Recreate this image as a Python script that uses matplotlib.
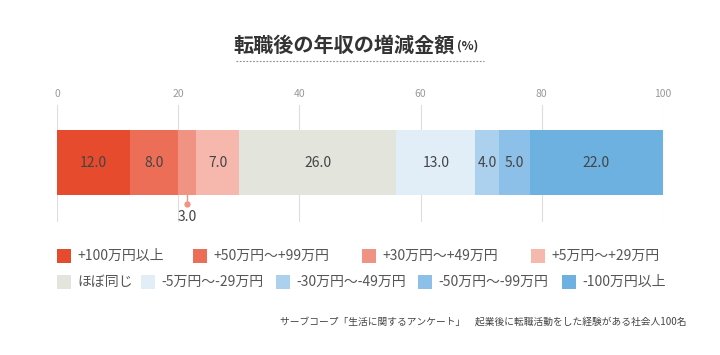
import matplotlib.pyplot as plt
from matplotlib.lines import Line2D
from matplotlib.patches import Rectangle

plt.rcParams['font.family'] = ['Noto Sans CJK JP', 'DejaVu Sans']

categories = ['+100万円以上', '+50万円〜+99万円', '+30万円〜+49万円', '+5万円〜+29万円',
              'ほぼ同じ', '-5万円〜-29万円', '-30万円〜-49万円', '-50万円〜-99万円', '-100万円以上']
values = [12.0, 8.0, 3.0, 7.0, 26.0, 13.0, 4.0, 5.0, 22.0]
colors = ['#e54b2c', '#ec6e56', '#f09382', '#f6b8ad', '#e3e4dc',
          '#e1eef8', '#abd1ee', '#8cc0e8', '#6db1e1']
ticks = [0, 20, 40, 60, 80, 100]

W, H = 720, 355
fig = plt.figure(figsize=(7.2, 3.55), dpi=100)
ax = fig.add_axes([57 / W, 1 - 222 / H, (663 - 57) / W, (222 - 105) / H])

for t in ticks:
    ax.axvline(t, color='#dddddd', lw=0.8, zorder=0)

bar_y, bar_h = 59.5, 65
left = 0
for v, c in zip(values, colors):
    ax.barh(bar_y, v, left=left, height=bar_h, color=c, zorder=2)
    mid = left + v / 2
    if v >= 4:
        ax.text(mid, bar_y, f'{v:.1f}', ha='center', va='center',
                fontsize=10, color='#444444', zorder=3)
    else:
        ax.plot([mid, mid], [bar_y - bar_h / 2, 18], color='#f09382', lw=1, zorder=3)
        ax.plot(mid, 18, 'o', color='#f09382', ms=3.5, zorder=3)
        ax.text(mid, 5, f'{v:.1f}', ha='center', va='center',
                fontsize=10, color='#444444', zorder=3)
    left += v

ax.set_xlim(0, 100)
ax.set_ylim(0, 117)
ax.set_yticks([])
ax.set_xticks(ticks)
ax.xaxis.tick_top()
ax.tick_params(axis='x', length=0, pad=4, labelsize=7.5, labelcolor='#999999')
for s in ax.spines.values():
    s.set_visible(False)

# title
fig.text(455 / W, 1 - 45 / H, '転職後の年収の増減金額', ha='right', va='center',
         fontsize=14.5, fontweight='bold', color='#333333')
fig.text(457 / W, 1 - 46 / H, '(%)', ha='left', va='center',
         fontsize=9, fontweight='bold', color='#333333')
fig.add_artist(Line2D([236 / W, 484 / W], [1 - 61 / H, 1 - 61 / H], color='#888888',
                      lw=0.8, ls=(0, (1.5, 1.5)), transform=fig.transFigure))

# legend, placed entry by entry
leg_x = [57, 193, 362, 531, 57, 141, 276, 418, 562]
leg_y = [256, 256, 256, 256, 282, 282, 282, 282, 282]
sq = 14
for name, c, x, y in zip(categories, colors, leg_x, leg_y):
    fig.add_artist(Rectangle((x / W, 1 - (y + sq / 2) / H), sq / W, sq / H,
                             facecolor=c, edgecolor='none', transform=fig.transFigure))
    fig.text((x + sq + 6) / W, 1 - y / H, name, ha='left', va='center',
             fontsize=10, color='#555555')

fig.text(687 / W, 1 - 322 / H,
         'サーブコープ「生活に関するアンケート」　起業後に転職活動をした経験がある社会人100名',
         ha='right', va='center', fontsize=7, color='#444444')

fig.savefig('out.png', dpi=100)
